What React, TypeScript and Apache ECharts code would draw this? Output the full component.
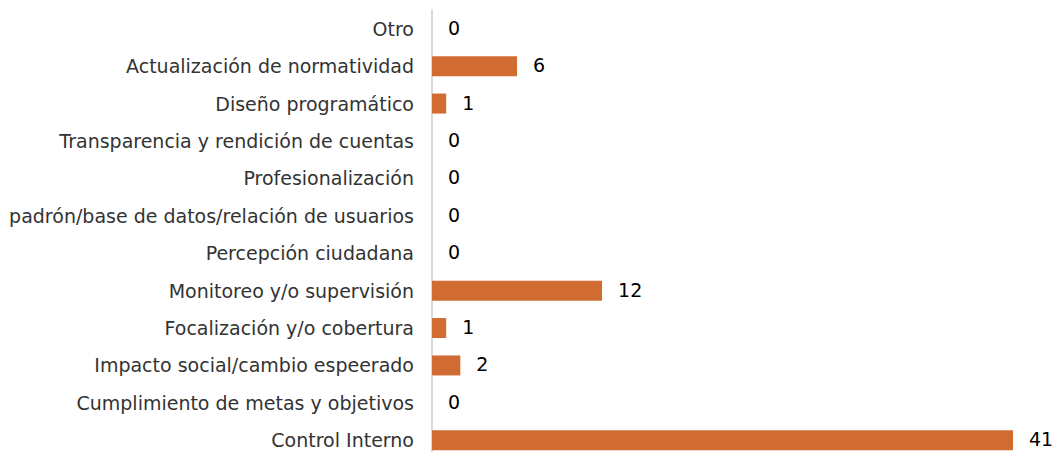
import React, { useEffect, useRef } from "react";
import * as echarts from "echarts";

const categories = [
  "Control Interno",
  "Cumplimiento de metas y objetivos",
  "Impacto social/cambio espeerado",
  "Focalización y/o cobertura",
  "Monitoreo y/o supervisión",
  "Percepción ciudadana",
  "padrón/base de datos/relación de usuarios",
  "Profesionalización",
  "Transparencia y rendición de cuentas",
  "Diseño programático",
  "Actualización de normatividad",
  "Otro",
];
const values = [41, 0, 2, 1, 12, 0, 0, 0, 0, 1, 6, 0];

export default function App() {
  const ref = useRef<HTMLDivElement>(null);
  useEffect(() => {
    if (!ref.current) return;
    const chart = echarts.init(ref.current, undefined, { renderer: "svg" });
    chart.setOption({
      animation: false,
      grid: { left: 432, right: 42, top: 10, bottom: 0 },
      xAxis: {
        type: "value",
        min: 0,
        max: 41,
        show: false,
        splitLine: { show: false },
      },
      yAxis: {
        type: "category",
        data: categories,
        axisLine: { show: true, lineStyle: { color: "#D9D9D9", width: 2 } },
        axisTick: { show: false },
        axisLabel: {
          margin: 18,
          fontFamily: "DejaVu Sans, sans-serif",
          fontSize: 19,
          color: "#333333",
        },
      },
      series: [
        {
          type: "bar",
          data: values,
          barWidth: 20,
          itemStyle: { color: "#D06C32" },
          label: {
            show: true,
            position: "right",
            distance: 16,
            offset: [0, -1],
            fontFamily: "DejaVu Sans, sans-serif",
            fontSize: 19,
            color: "#000",
          },
        },
      ],
    });
    return () => chart.dispose();
  }, []);
  return (
    <div style={{ position: "fixed", left: 0, top: 0, width: 1055, height: 452, overflow: "hidden", background: "#fff" }}>
      <div ref={ref} style={{ width: 1055, height: 459 }} />
    </div>
  );
}
